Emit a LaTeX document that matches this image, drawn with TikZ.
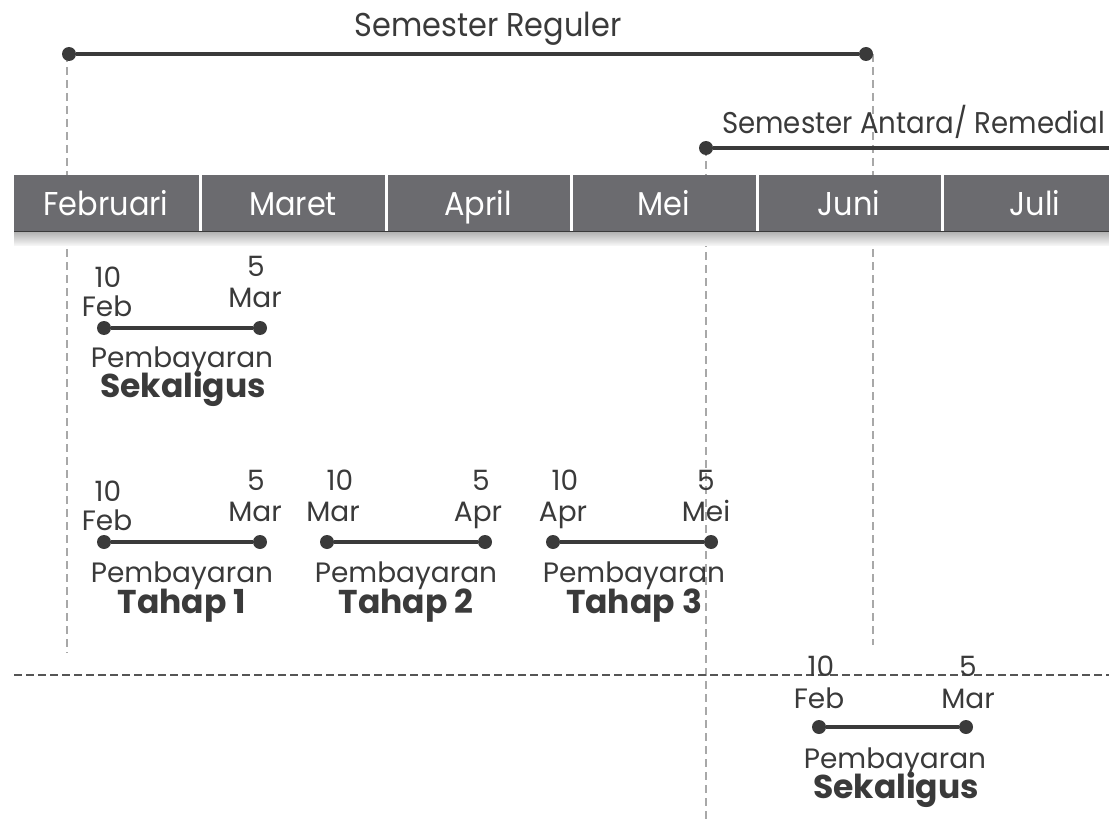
\documentclass[tikz,border=0pt]{standalone}
\usepackage{fontspec}
\setmainfont{Poppins}
\newfontfamily\narrowfont{Poppins}[FakeStretch=0.92]
\definecolor{barc}{HTML}{6B6B6F}
\definecolor{ink}{HTML}{3A3A3A}
\definecolor{vdash}{HTML}{A8A8A8}
\definecolor{hdash}{HTML}{555555}
\begin{document}
\begin{tikzpicture}[x=1pt,y=-1pt,
  txt/.style={inner sep=0pt, anchor=base, text=ink, font=\fontsize{28}{28}\selectfont},
  btxt/.style={inner sep=0pt, anchor=base, text=ink, font=\fontsize{33}{33}\selectfont\bfseries},
  month/.style={inner sep=0pt, anchor=base, text=white, font=\narrowfont\fontsize{33}{33}\selectfont},
  title/.style={inner sep=0pt, anchor=base, text=ink, font=\narrowfont\fontsize{33}{33}\selectfont},
  subtitle/.style={inner sep=0pt, anchor=base, text=ink, font=\narrowfont\fontsize{30}{30}\selectfont},
  vguide/.style={draw=vdash, line width=2.8pt, dash pattern=on 8pt off 5pt},
  hguide/.style={draw=hdash, line width=2.8pt, dash pattern=on 8pt off 4pt},
  span/.style={draw=ink, line width=4pt},
  dot/.style={circle, fill=ink, inner sep=0pt, minimum size=14pt}]
\useasboundingbox (0,0) rectangle (1109,824);
% guides
\coordinate (g1t) at (67,54);   \coordinate (g1b) at (67,653);
\coordinate (g2t) at (873,54);  \coordinate (g2b) at (873,645);
\coordinate (g3t) at (706,148); \coordinate (g3b) at (706,822);
\coordinate (hl) at (14,675);   \coordinate (hr) at (1109,675);
\draw[vguide] (g1t) -- (g1b);
\draw[vguide] (g2t) -- (g2b);
\draw[vguide] (g3t) -- (g3b);
\draw[hguide] (hl) -- (hr);
% month bar
\fill[barc] (14,175) rectangle (1109,231);
\shade[top color=gray!60, bottom color=gray!8] (14,232) rectangle (1109,245);
\draw[ink, line width=1.5pt] (14,231.5) -- (1109,231.5);
\foreach \x in {200,386,571,757,942} \draw[white, line width=3pt] (\x,175) -- (\x,231);
\node[month] (mfeb) at (106,215) {Februari};
\node[month] (mmar) at (293,215) {Maret};
\node[month] (mapr) at (478,215) {April};
\node[month] (mmei) at (664,215) {Mei};
\node[month] (mjun) at (849,215) {Juni};
\node[month] (mjul) at (1035,215) {Juli};
% semesters
\node[title] (sreg) at (488,37) {Semester Reguler};
\node[dot] (sra) at (69,54) {};
\node[dot] (srb) at (866,54) {};
\draw[span] (sra) -- (srb);
\node[subtitle, anchor=base west] (sant) at (722,134) {Semester Antara/ Remedial};
\node[dot] (saa) at (706,148) {};
\coordinate (sab) at (1109,148);
\draw[span] (saa) -- (sab);
% row 1
\node[dot] (r1a) at (104,328) {};
\node[dot] (r1b) at (260,328) {};
\draw[span] (r1a) -- (r1b);
\node[txt] (r1d1) at (108,287) {10};
\node[txt] (r1m1) at (107,316) {Feb};
\node[txt] (r1d2) at (256,276) {5};
\node[txt] (r1m2) at (255,307) {Mar};
\node[txt] (r1p) at (182,367) {Pembayaran};
\node[btxt] (r1s) at (183,397) {Sekaligus};
% row 2
\node[dot] (r2a) at (104,542) {};
\node[dot] (r2b) at (260,542) {};
\node[dot] (r2c) at (327,542) {};
\node[dot] (r2d) at (485,542) {};
\node[dot] (r2e) at (553,542) {};
\node[dot] (r2f) at (711,542) {};
\draw[span] (r2a) -- (r2b);
\draw[span] (r2c) -- (r2d);
\draw[span] (r2e) -- (r2f);
\node[txt] (r2d1) at (108,501) {10};
\node[txt] (r2m1) at (107,530) {Feb};
\node[txt] (r2d2) at (256,490) {5};
\node[txt] (r2m2) at (255,521) {Mar};
\node[txt] (r2d3) at (340,490) {10};
\node[txt] (r2m3) at (333,521) {Mar};
\node[txt] (r2d4) at (481,490) {5};
\node[txt] (r2m4) at (478,521) {Apr};
\node[txt] (r2d5) at (565,490) {10};
\node[txt] (r2m5) at (563,521) {Apr};
\node[txt] (r2d6) at (706,490) {5};
\node[txt] (r2m6) at (706,521) {Mei};
\node[txt] (r2p1) at (182,582) {Pembayaran};
\node[btxt] (r2t1) at (182,613) {Tahap 1};
\node[txt] (r2p2) at (406,582) {Pembayaran};
\node[btxt] (r2t2) at (406,613) {Tahap 2};
\node[txt] (r2p3) at (634,582) {Pembayaran};
\node[btxt] (r2t3) at (634,613) {Tahap 3};
% row 3
\node[dot] (r3a) at (819,727) {};
\node[dot] (r3b) at (966,727) {};
\draw[span] (r3a) -- (r3b);
\node[txt] (r3d1) at (821,676) {10};
\node[txt] (r3m1) at (819,708) {Feb};
\node[txt] (r3d2) at (968,676) {5};
\node[txt] (r3m2) at (968,708) {Mar};
\node[txt] (r3p) at (895,768) {Pembayaran};
\node[btxt] (r3s) at (896,798) {Sekaligus};
\end{tikzpicture}
\end{document}
